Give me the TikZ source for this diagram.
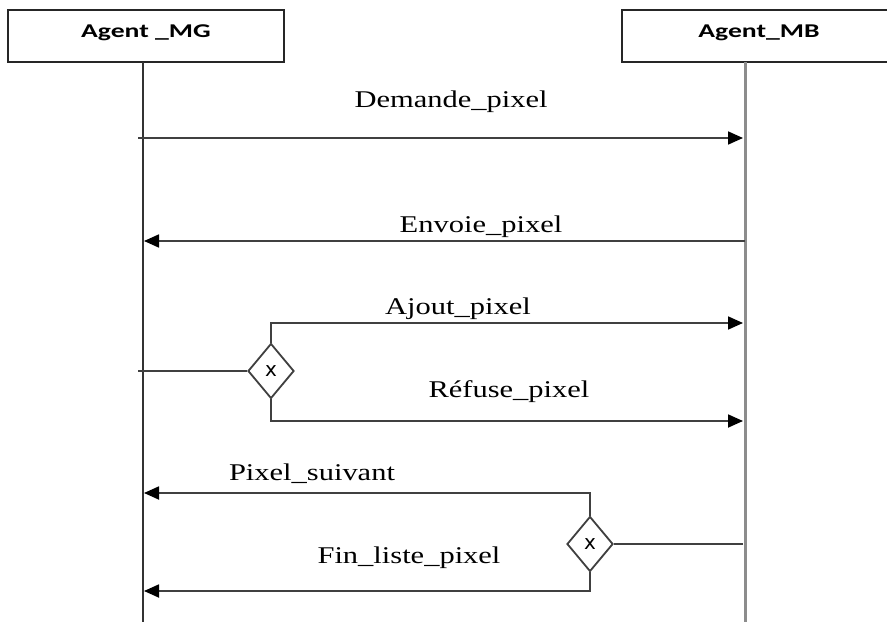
\documentclass[tikz,border=0pt]{standalone}
\usepackage{fontspec}
\setmainfont{Liberation Serif}
\newfontfamily\headfont{Carlito}
\newfontfamily\gatefont{DejaVu Sans}
\usetikzlibrary{arrows.meta,shapes.geometric}
\tikzset{
  agentbox/.style={draw=black!85, line width=1.6pt, minimum width=276pt, minimum height=52pt, inner sep=0pt},
  lifeline/.style={line width=2pt, draw=black!80},
  lifelinegray/.style={line width=3pt, draw=black!45},
  msg/.style={line width=1.8pt, draw=black!75},
  msgarrow/.style={msg, -{Triangle[length=15pt,width=13pt,color=black]}},
  msglabel/.style={anchor=base, inner sep=0pt, font=\fontsize{24}{28}\selectfont},
  gate/.style={diamond, draw=black!75, line width=1.8pt, minimum width=46pt, minimum height=55pt, inner sep=0pt, font=\gatefont\fontsize{20}{22}\selectfont},
  headlabel/.style={anchor=base, inner sep=0pt, font=\headfont\bfseries\fontsize{19.5}{22}\selectfont},
}
\newcommand{\wide}[1]{\scalebox{1.27}[1]{#1}}
\newcommand{\headwide}[1]{\scalebox{1.42}[1]{#1}}
\begin{document}
\begin{tikzpicture}[x=1pt,y=-1pt]
  \useasboundingbox (0,0) rectangle (887,623);
  \fill[white] (0,0) rectangle (887,623);

  % agent headers
  \node[agentbox] (mg) at (146,36) {};
  \node[agentbox, minimum width=268pt] (mb) at (756,36) {};
  \node[headlabel] (mgtxt) at (146,38) {\headwide{Agent \_MG}};
  \node[headlabel] (mbtxt) at (759,38) {\headwide{Agent\_MB}};

  % lifelines
  \coordinate (mgtop) at (143,62);
  \coordinate (mgbot) at (143,622);
  \coordinate (mbtop) at (745,62);
  \coordinate (mbbot) at (745,622);
  \draw[lifeline] (mgtop) -- (mgbot);
  \draw[lifelinegray] (mbtop) -- (mbbot);

  % message end points
  \coordinate (m1s) at (138,138);
  \coordinate (m1e) at (743,138);
  \coordinate (m2s) at (745,241);
  \coordinate (m2e) at (144,241);
  \coordinate (m3e) at (743,323);
  \coordinate (m4e) at (743,421);
  \coordinate (g1in) at (138,371);
  \coordinate (g2in) at (743,544);
  \coordinate (m5e) at (144,493);
  \coordinate (m6e) at (144,591);

  % gates
  \node[gate] (g1) at (271,371) {x};
  \node[gate] (g2) at (590,544) {x};

  % messages
  \draw[msgarrow] (m1s) -- (m1e);
  \draw[msgarrow] (m2s) -- (m2e);
  \draw[msg] (g1in) -- (g1.west);
  \draw[msgarrow] (g1.north) |- (m3e);
  \draw[msgarrow] (g1.south) |- (m4e);
  \draw[msg] (g2in) -- (g2.east);
  \draw[msgarrow] (g2.north) |- (m5e);
  \draw[msgarrow] (g2.south) |- (m6e);

  % message labels
  \node[msglabel] (l1) at (451,108) {\wide{Demande\_pixel}};
  \node[msglabel] (l2) at (481,233) {\wide{Envoie\_pixel}};
  \node[msglabel] (l3) at (458,314) {\wide{Ajout\_pixel}};
  \node[msglabel] (l4) at (509,397) {\wide{Réfuse\_pixel}};
  \node[msglabel] (l5) at (312,480) {\wide{Pixel\_suivant}};
  \node[msglabel] (l6) at (409,563) {\wide{Fin\_liste\_pixel}};
\end{tikzpicture}
\end{document}
